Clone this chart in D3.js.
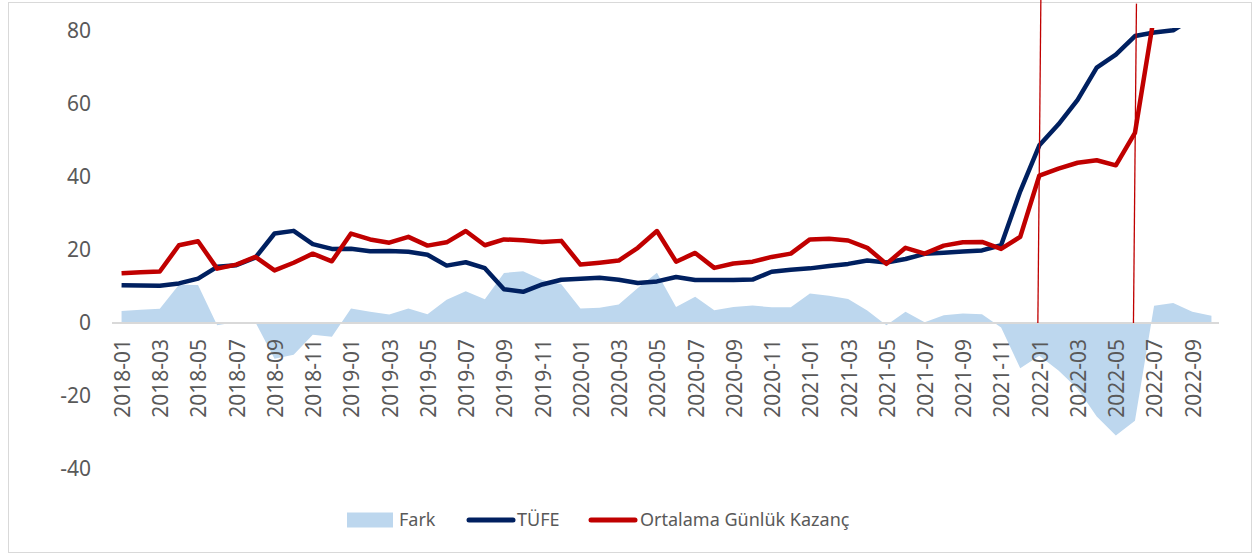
<!DOCTYPE html>
<html>
<head>
<meta charset="utf-8">
<script src="https://cdn.jsdelivr.net/npm/d3@7"></script>
<style>
  body { margin: 0; background: #fff; }
  text { font-family: "Noto Sans", "Open Sans", sans-serif; fill: #595959; }
</style>
</head>
<body>
<div id="vis"></div>
<script>
const months = [
  "2018-01", "2018-02", "2018-03", "2018-04", "2018-05", "2018-06", "2018-07", "2018-08", "2018-09", "2018-10", "2018-11", "2018-12",
  "2019-01", "2019-02", "2019-03", "2019-04", "2019-05", "2019-06", "2019-07", "2019-08", "2019-09", "2019-10", "2019-11", "2019-12",
  "2020-01", "2020-02", "2020-03", "2020-04", "2020-05", "2020-06", "2020-07", "2020-08", "2020-09", "2020-10", "2020-11", "2020-12",
  "2021-01", "2021-02", "2021-03", "2021-04", "2021-05", "2021-06", "2021-07", "2021-08", "2021-09", "2021-10", "2021-11", "2021-12",
  "2022-01", "2022-02", "2022-03", "2022-04", "2022-05", "2022-06", "2022-07", "2022-08", "2022-09", "2022-10"
];

const tufe = [
  10.35, 10.26, 10.23, 10.85, 12.15, 15.39, 15.85, 17.90, 24.52, 25.24, 21.62, 20.30,
  20.35, 19.67, 19.71, 19.50, 18.71, 15.72, 16.65, 15.01, 9.26, 8.55, 10.56, 11.84,
  12.15, 12.37, 11.86, 10.94, 11.39, 12.62, 11.76, 11.77, 11.75, 11.89, 14.03, 14.60,
  14.97, 15.61, 16.19, 17.14, 16.59, 17.53, 18.95, 19.25, 19.58, 19.89, 21.31, 36.08,
  48.69, 54.44, 61.14, 69.97, 73.50, 78.62, 79.60, 80.21, 83.45, 85.51
];

const kazanc = [
  13.6, 13.9, 14.1, 21.3, 22.4, 14.9, 16.0, 18.1, 14.4, 16.5, 19.0, 16.9,
  24.5, 22.9, 22.0, 23.6, 21.2, 22.1, 25.2, 21.3, 22.9, 22.7, 22.2, 22.5,
  16.0, 16.5, 17.1, 20.6, 25.2, 16.8, 19.2, 15.1, 16.3, 16.8, 18.1, 19.0,
  22.9, 23.1, 22.6, 20.6, 16.2, 20.6, 19.0, 21.2, 22.1, 22.2, 20.3, 23.6,
  40.4, 42.3, 43.9, 44.6, 43.2, 52.1, 84.2, 85.5, 86.4, 87.5
];

const fark = [
  3.3, 3.6, 3.9, 10.5, 10.4, -0.6, 0.3, 0.2, -9.8, -8.7, -3.2, -3.8,
  4.0, 3.1, 2.3, 4.0, 2.4, 6.4, 8.7, 6.5, 13.7, 14.2, 11.8, 10.6,
  4.0, 4.2, 5.1, 9.6, 13.8, 4.4, 7.2, 3.5, 4.4, 4.8, 4.3, 4.3,
  8.1, 7.5, 6.6, 3.4, -0.6, 3.1, 0.2, 2.1, 2.6, 2.4, -1.2, -12.4,
  -9.0, -13.0, -18.0, -25.6, -30.8, -26.8, 4.7, 5.5, 3.1, 2.0
];

const yTicks = [-40, -20, 0, 20, 40, 60, 80];
const markers = ["2022-01", "2022-06"];

const FRAME_WIDTH = 1255;
const FRAME_HEIGHT = 556;
const PLOT = { left: 112, right: 1221, top: 31, bottom: 469 };

const BLUE = "#002060";
const RED = "#c00000";
const AREA = "#bdd7ee";

const svg = d3.select("#vis")
  .append("svg")
  .attr("width", FRAME_WIDTH)
  .attr("height", FRAME_HEIGHT);

// chart border
svg.append("rect")
  .attr("x", 8.5).attr("y", 2.5)
  .attr("width", 1243).attr("height", 550)
  .attr("fill", "none")
  .attr("stroke", "#d9d9d9");

const X = d3.scaleBand().domain(months).range([PLOT.left, PLOT.right]);
const Y = d3.scaleLinear().domain([-40, 80]).range([PLOT.bottom, PLOT.top]);
const cx = (m) => X(m) + X.bandwidth() / 2;

svg.append("clipPath").attr("id", "plot")
  .append("rect")
  .attr("x", 0).attr("y", PLOT.top - 3)
  .attr("width", FRAME_WIDTH).attr("height", PLOT.bottom - PLOT.top + 3);

// y axis labels (no axis line, no gridlines)
const yAxis = svg.append("g")
  .attr("transform", "translate(101,0)")
  .call(d3.axisLeft(Y).tickValues(yTicks).tickSize(0).tickPadding(10)
    .tickFormat((d) => String(d)));
yAxis.select(".domain").remove();
yAxis.selectAll("text")
  .attr("font-size", "21px")
  .attr("fill", "#595959")
  .attr("font-family", "Noto Sans");

const g = svg.append("g").attr("clip-path", "url(#plot)");

// Fark area
g.append("path")
  .datum(months)
  .attr("fill", AREA)
  .attr("d", d3.area()
    .x((d) => cx(d))
    .y0(Y(0))
    .y1((d, i) => Y(fark[i])));

// zero line
svg.append("line")
  .attr("x1", PLOT.left).attr("x2", PLOT.right - 2)
  .attr("y1", Y(0)).attr("y2", Y(0))
  .attr("stroke", "#d9d9d9")
  .attr("stroke-width", 2);

// x axis labels, every second month
const xAxis = svg.append("g")
  .attr("transform", "translate(0," + Y(0) + ")")
  .call(d3.axisBottom(X).tickValues(months.filter((d, i) => i % 2 === 0)).tickSize(0));
xAxis.select(".domain").remove();
xAxis.selectAll("text")
  .attr("font-size", "21px")
  .attr("fill", "#595959")
  .attr("font-family", "Noto Sans")
  .attr("text-anchor", "end")
  .attr("dy", "0.35em")
  .attr("transform", "translate(1,16) rotate(-90)")
  .attr("x", 0).attr("y", 0);

const line = d3.line().x((d) => cx(d[0])).y((d) => Y(d[1]));

g.append("path")
  .datum(months.map((m, i) => [m, tufe[i]]))
  .attr("fill", "none")
  .attr("stroke", BLUE)
  .attr("stroke-width", 4.5)
  .attr("stroke-linejoin", "round")
  .attr("d", line);

g.append("path")
  .datum(months.map((m, i) => [m, kazanc[i]]))
  .attr("fill", "none")
  .attr("stroke", RED)
  .attr("stroke-width", 4.5)
  .attr("stroke-linejoin", "round")
  .attr("d", line);

// hand-drawn marker lines
svg.selectAll(".marker")
  .data(markers)
  .enter()
  .append("line")
  .attr("class", "marker")
  .attr("x1", (d) => cx(d) + 1.5)
  .attr("x2", (d) => cx(d) - 1.5)
  .attr("y1", (d, i) => Y(88.5 - i))
  .attr("y2", Y(0))
  .attr("stroke", RED)
  .attr("stroke-width", 1.3);

// legend
const legend = svg.append("g").attr("transform", "translate(0,520)");
legend.append("rect")
  .attr("x", 347).attr("y", -7.5)
  .attr("width", 46).attr("height", 15)
  .attr("fill", AREA);
legend.append("text").attr("x", 399).attr("y", 0).attr("dy", "0.35em")
  .attr("font-size", "18px").text("Fark");

legend.append("line")
  .attr("x1", 469).attr("x2", 513)
  .attr("stroke", BLUE).attr("stroke-width", 5).attr("stroke-linecap", "round");
legend.append("text").attr("x", 517).attr("y", 0).attr("dy", "0.35em")
  .attr("font-size", "18px").text("TÜFE");

legend.append("line")
  .attr("x1", 591).attr("x2", 635)
  .attr("stroke", RED).attr("stroke-width", 5).attr("stroke-linecap", "round");
legend.append("text").attr("x", 640).attr("y", 0).attr("dy", "0.35em")
  .attr("font-size", "18px").text("Ortalama Günlük Kazanç");
</script>
</body>
</html>
